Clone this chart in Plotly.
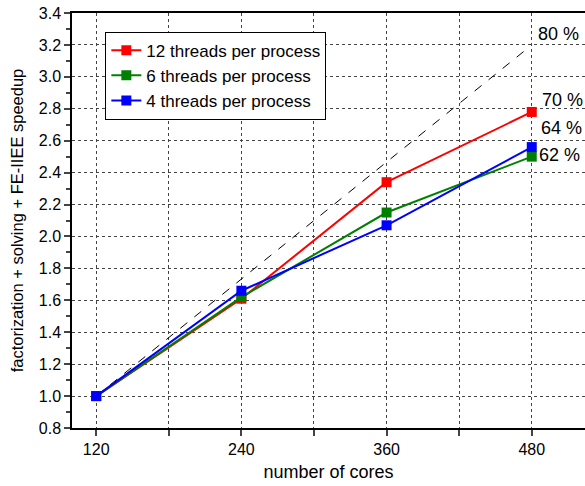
import plotly.graph_objects as go

cores = [120, 240, 360, 480]
t12 = [1.0, 1.61, 2.34, 2.78]
t6 = [1.0, 1.62, 2.15, 2.50]
t4 = [1.0, 1.66, 2.07, 2.56]
ref_x = [120, 476]
ref_y = [1.0, 3.175]
names = ["12 threads per process", "6 threads per process", "4 threads per process"]
colors = ["#ff0000", "#008000", "#0000ff"]
labels = ["80 %", "70 %", "64 %", "62 %"]
label_y = [3.27, 2.855, 2.68, 2.51]
label_shift = [4, 8, 7, 5]

fig = go.Figure()
fig.add_trace(go.Scatter(x=ref_x, y=ref_y, mode="lines",
                         line=dict(color="black", width=1, dash="dash"),
                         showlegend=False, hoverinfo="skip"))
order = [(t12, names[0], colors[0]), (t6, names[1], colors[1]), (t4, names[2], colors[2])]
for ys, n, c in order:
    fig.add_trace(go.Scatter(x=cores, y=ys, name=n, mode="lines+markers",
                             line=dict(color=c, width=2),
                             marker=dict(symbol="square", size=10, color=c)))

for lab, yy, sh in zip(labels, label_y, label_shift):
    fig.add_annotation(x=480, y=yy, text=lab, showarrow=False, xanchor="left",
                       xshift=sh, font=dict(size=18, color="black"))

fig.update_layout(
    width=585, height=486,
    margin=dict(l=72, r=0, t=13, b=58),
    paper_bgcolor="white", plot_bgcolor="white",
    font=dict(family="Liberation Sans, Arial", color="black", size=16),
    legend=dict(x=0.065, y=0.955, xanchor="left", yanchor="top",
                bordercolor="black", borderwidth=1, bgcolor="white",
                font=dict(size=17), tracegroupgap=0, itemwidth=30),
    showlegend=True,
)
fig.update_xaxes(
    range=[100, 524], tickvals=cores, ticks="outside", ticklen=6, tickwidth=1.5,
    showline=True, linecolor="black", linewidth=1.5, mirror=True,
    showgrid=True, gridcolor="#444444", griddash="dot", gridwidth=1,
    minor=dict(tickvals=[180, 300, 420], ticks="outside", ticklen=6, tickwidth=1.5,
               showgrid=True, gridcolor="#444444", griddash="dot", gridwidth=1),
    title=dict(text="number of cores", font=dict(size=18), standoff=8),
    tickfont=dict(size=16), zeroline=False,
)
fig.update_yaxes(
    range=[0.8, 3.4], dtick=0.2, tick0=0.8, tickformat=".1f",
    ticks="outside", ticklen=6, tickwidth=1.5,
    showline=True, linecolor="black", linewidth=1.5,
    showgrid=True, gridcolor="#444444", griddash="dot", gridwidth=1,
    minor=dict(dtick=0.1, ticks="outside", ticklen=4, tickwidth=1.5, showgrid=False),
    title=dict(text="factorization + solving + FE-IIEE speedup", font=dict(size=16.5), standoff=11),
    tickfont=dict(size=16), zeroline=False,
)
fig.write_html("out.html")
